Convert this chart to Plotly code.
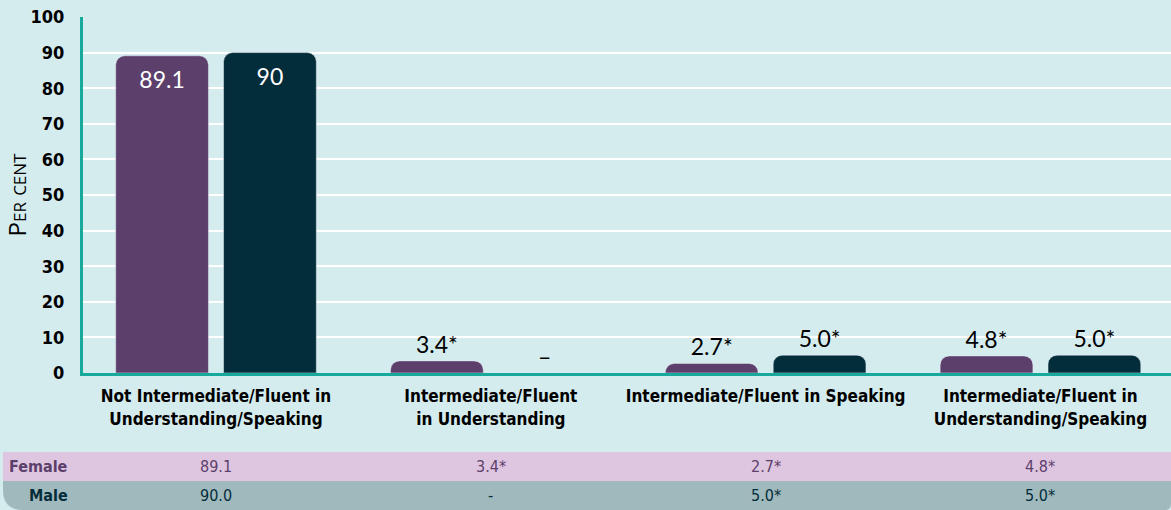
import plotly.graph_objects as go

categories = [
    "Not Intermediate/Fluent in<br>Understanding/Speaking",
    "Intermediate/Fluent<br>in Understanding",
    "Intermediate/Fluent in Speaking",
    "Intermediate/Fluent in<br>Understanding/Speaking",
]
female_values = [89.1, 3.4, 2.7, 4.8]
male_values = [90.0, None, 5.0, 5.0]
female_labels = ["89.1", "3.4*", "2.7*", "4.8*"]
male_labels = ["90", "–", "5.0*", "5.0*"]
female_table = ["89.1", "3.4*", "2.7*", "4.8*"]
male_table = ["90.0", "-", "5.0*", "5.0*"]
y_ticks = list(range(0, 101, 10))

BG = "#d4ecee"
FEMALE = "#5c3f6b"
MALE = "#042d3b"
TEAL = "#17a99b"
COND = "DejaVu Sans Condensed, Roboto Condensed, Roboto, sans-serif"

W, H = 1171, 510
ML, MR, MT, MB = 83, 0, 17, 137
PW, PH = W - ML - MR, H - MT - MB


def px_x(x):
    return (x - ML) / PW


def px_y(y):
    return (H - MB - y) / PH


male_plot = [v if v is not None else 0 for v in male_values]

fig = go.Figure()
for vals, labels, col in [(female_values, female_labels, FEMALE), (male_plot, male_labels, MALE)]:
    fig.add_trace(go.Bar(
        x=categories, y=vals,
        marker=dict(color=col, cornerradius=9),
        text=labels,
        textposition=["inside" if v > 20 else "outside" for v in vals],
        insidetextanchor="end",
        insidetextfont=dict(color="white", size=23, family="Lato"),
        outsidetextfont=dict(color="black", size=23, family="Lato"),
        cliponaxis=False,
        hoverinfo="skip",
    ))

shapes = []
shapes.append(dict(type="rect", xref="paper", yref="paper",
                   x0=px_x(3), x1=px_x(W), y0=px_y(481), y1=px_y(452),
                   fillcolor="#dfc6e0", line=dict(width=0), layer="below"))
r = 20
r2 = 6
path = (f"M {px_x(3)},{px_y(481)} L {px_x(W)},{px_y(481)} "
        f"L {px_x(W)},{px_y(510 - r2)} Q {px_x(W)},{px_y(510)} {px_x(W - r2)},{px_y(510)} "
        f"L {px_x(3 + r)},{px_y(510)} Q {px_x(3)},{px_y(510)} {px_x(3)},{px_y(510 - r)} Z")
shapes.append(dict(type="path", xref="paper", yref="paper", path=path,
                   fillcolor="#a0b9bc", line=dict(width=0), layer="below"))

FY, MY = 466.5, 495.5
annotations = []
annotations.append(dict(xref="paper", yref="paper", x=px_x(70), y=px_y(FY),
                        text="Female", showarrow=False, xanchor="right", yanchor="middle",
                        font=dict(family=COND, size=16, color=FEMALE, weight="bold")))
annotations.append(dict(xref="paper", yref="paper", x=px_x(70), y=px_y(MY),
                        text="Male", showarrow=False, xanchor="right", yanchor="middle",
                        font=dict(family=COND, size=16, color=MALE, weight="bold")))
for c, fv, mv in zip(categories, female_table, male_table):
    annotations.append(dict(xref="x", yref="paper", x=c, y=px_y(FY), text=fv,
                            showarrow=False, yanchor="middle",
                            font=dict(family=COND, size=16, color=FEMALE)))
    annotations.append(dict(xref="x", yref="paper", x=c, y=px_y(MY), text=mv,
                            showarrow=False, yanchor="middle",
                            font=dict(family=COND, size=16, color=MALE)))

fig.update_layout(
    width=W, height=H,
    margin=dict(l=ML, r=MR, t=MT, b=MB),
    paper_bgcolor=BG, plot_bgcolor=BG,
    barmode="group", bargap=0.215, bargroupgap=0.14,
    showlegend=False,
    shapes=shapes, annotations=annotations,
)
fig.update_xaxes(
    range=[-0.484, 3.475],
    showline=True, linecolor=TEAL, linewidth=3,
    tickfont=dict(family=COND, size=17, color="black", weight="bold"),
    ticks="", ticklabelstandoff=6,
)
fig.update_yaxes(
    range=[0, 100], tickvals=y_ticks,
    showgrid=True, gridcolor="white", gridwidth=2,
    showline=True, linecolor=TEAL, linewidth=3,
    zeroline=False,
    tickfont=dict(family=COND, size=18, color="black", weight="bold"),
    ticklabelstandoff=12,
    title=dict(text="Per cent",
               font=dict(family="Open Sans", size=24, color="black", variant="small-caps"),
               standoff=5),
    automargin=False,
)
fig.write_html("out.html", config={"displayModeBar": False},
               post_script="document.body.style.margin='0';")
